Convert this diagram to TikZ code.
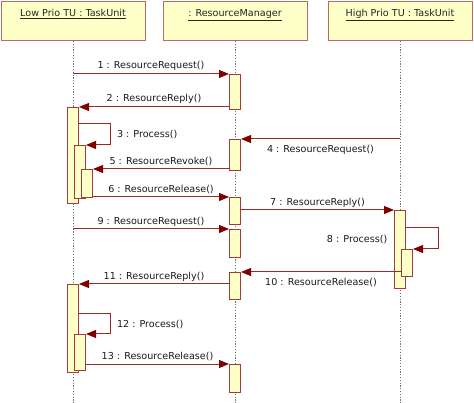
\documentclass[tikz,border=0pt]{standalone}
\usepackage{fontspec}
\setmainfont{DejaVu Sans}
\usetikzlibrary{positioning, arrows.meta}
\definecolor{boxfill}{HTML}{FFFFC8}
\definecolor{boxline}{HTML}{B86A6A}
\definecolor{actline}{HTML}{A03C3C}
\definecolor{msgline}{HTML}{9A2A2A}
\definecolor{tipred}{HTML}{800000}

\begin{document}
\begin{tikzpicture}[x=1pt, y=-1pt, font=\fontsize{9.6}{11}\selectfont,
  head/.style={draw=boxline, fill=boxfill, line width=1pt, minimum width=144pt,
    anchor=north, text height=11.5pt, text depth=20.5pt, inner ysep=3.5pt, text=black!85},
  act/.style={draw=actline, fill=boxfill, line width=1pt, minimum width=11pt,
    inner sep=0pt, anchor=north},
  life/.style={black!55, line width=1pt, dash pattern=on 1.3pt off 1.5pt},
  msg/.style={msgline, line width=1pt, -{Triangle[length=10pt,width=8pt,color=tipred]}},
  lbl/.style={text=black!90, inner sep=1.5pt}]
\useasboundingbox (0,0) rectangle (474,403);

% objects
\node[head] (low) at (73,1) {\underline{Low Prio TU : TaskUnit}};
\node[head] (mgr) at (235,1) {\underline{: ResourceManager}};
\node[head] (high) at (400,1) {\underline{High Prio TU : TaskUnit}};

% lifelines
\coordinate (bot) at (0,403);
\draw[life] (low.south) -- (low.south |- bot);
\draw[life] (mgr.south) -- (mgr.south |- bot);
\draw[life] (high.south) -- (high.south |- bot);

% activations
\node[act, minimum height=35pt] (ma1) at (235,74) {};
\node[act, minimum height=31pt] (ma2) at (235,139) {};
\node[act, minimum height=27pt] (ma3) at (235,197) {};
\node[act, minimum height=28pt] (ma4) at (235,229) {};
\node[act, minimum height=27pt] (ma5) at (235,272) {};
\node[act, minimum height=28pt] (ma6) at (235,364) {};
\node[act, minimum height=96pt] (la1) at (73,107) {};
\node[act, minimum height=53pt] (la2) at (80,145) {};
\node[act, minimum height=28pt] (la3) at (87,169) {};
\node[act, minimum height=88pt] (la4) at (73,284) {};
\node[act, minimum height=36pt] (la5) at (80,334) {};
\node[act, minimum height=78pt] (ra1) at (400,210) {};
\node[act, minimum height=27pt] (ra2) at (407,249) {};

% messages
\draw[msg] (low |- ma1.north) -- (ma1.north west)
  node[lbl, midway, above=1pt] {1 : ResourceRequest()};
\draw[msg] (ma1.west |- la1.north) -- (la1.north east)
  node[lbl, midway, above=1pt] {2 : ResourceReply()};
\draw[msg] ([yshift=-17pt]la1.north east) -- ++(31,0) |- (la2.north east)
  node[lbl, pos=0.25, right=5pt] {3 : Process()};
\draw[msg] (high |- ma2.north) -- (ma2.north east)
  node[lbl, midway, below=4pt] {4 : ResourceRequest()};
\draw[msg] (ma2.west |- la3.north) -- (la3.north east)
  node[lbl, midway, above=1pt] {5 : ResourceRevoke()};
\draw[msg] (la3.east |- ma3.north) -- (ma3.north west)
  node[lbl, midway, above=1pt] {6 : ResourceRelease()};
\draw[msg] (ma3.east |- ra1.north) -- (ra1.north west)
  node[lbl, midway, above=1pt] {7 : ResourceReply()};
\draw[msg] ([yshift=-18pt]ra1.north east) -- ++(32,0) |- (ra2.north east);
\node[lbl, anchor=east] (p8) at (389,239) {8 : Process()};
\draw[msg] (low |- ma4.north) -- (ma4.north west)
  node[lbl, midway, above=1pt] {9 : ResourceRequest()};
\draw[msg] (ra2.west |- ma5.north) -- (ma5.north east)
  node[lbl, midway, below=4pt] {10 : ResourceRelease()};
\draw[msg] (ma5.west |- la4.north) -- (la4.north east)
  node[lbl, midway, above=1pt] {11 : ResourceReply()};
\draw[msg] ([yshift=-30pt]la4.north east) -- ++(31,0) |- (la5.north east)
  node[lbl, pos=0.25, right=5pt] {12 : Process()};
\draw[msg] (la5.east |- ma6.north) -- (ma6.north west)
  node[lbl, midway, above=1pt] {13 : ResourceRelease()};
\end{tikzpicture}
\end{document}
